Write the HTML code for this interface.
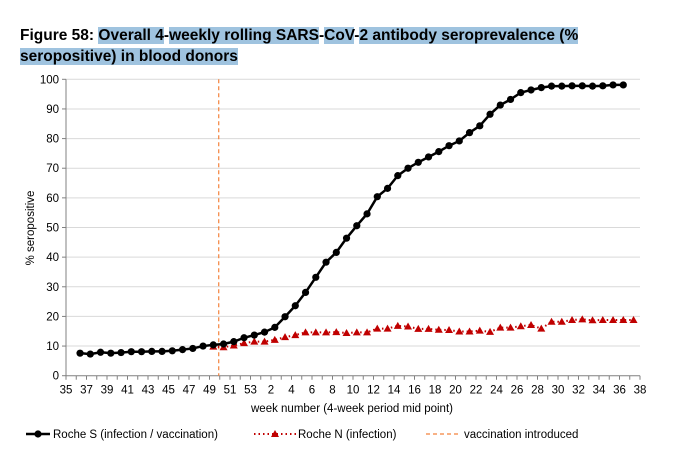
<!DOCTYPE html>
<html><head><meta charset="utf-8"><style>
body{margin:0;background:#fff;width:678px;height:465px;overflow:hidden;font-family:"Liberation Sans",Arial,sans-serif}
.title{position:absolute;left:20px;top:25px;font-weight:bold;font-size:15.5px;line-height:21px;color:#000}
.hl{background:#9fc3df}
</style></head><body>
<div class="title">Figure 58: <span class="hl">Overall 4</span>-<span class="hl">weekly rolling SARS</span>-<span class="hl">CoV</span>-<span class="hl">2 antibody seroprevalence (%</span><br><span class="hl">seropositive) in blood donors</span></div>
<svg id="chart" width="678" height="465" style="position:absolute;left:0;top:0"></svg>
<script>
const xLabels=["35","37","39","41","43","45","47","49","51","53","2","4","6","8","10","12","14","16","18","20","22","24","26","28","30","32","34","36","38"];
const yTicks=[0,10,20,30,40,50,60,70,80,90,100];
const rocheS=[7.6,7.3,7.9,7.6,7.8,8.1,8.1,8.2,8.2,8.4,8.8,9.2,10.0,10.4,10.7,11.5,12.8,13.7,14.7,16.3,19.9,23.6,28.1,33.2,38.3,41.6,46.4,50.6,54.6,60.4,63.2,67.5,70.0,72.0,73.8,75.6,77.6,79.2,82.0,84.3,88.2,91.3,93.2,95.5,96.4,97.2,97.7,97.7,97.8,97.8,97.7,97.8,98.1,98.1];
const rocheN=[9.8,9.6,10.2,11.0,11.5,11.5,12.1,13.0,13.7,14.6,14.6,14.6,14.7,14.4,14.6,14.6,15.9,15.9,16.8,16.6,15.8,15.8,15.5,15.4,14.9,14.9,15.2,14.8,16.2,16.2,16.7,17.1,15.9,18.2,18.2,18.8,19.0,18.7,18.8,18.8,18.8,18.8];
const sStartIdx=1.37, nStartIdx=14.37, vaccIdx=14.9, nWeeks=56;
const svg=document.getElementById('chart');const NS='http://www.w3.org/2000/svg';
function mk(t,a,p){const e=document.createElementNS(NS,t);for(const k in a)e.setAttribute(k,a[k]);(p||svg).appendChild(e);return e;}
const X0=66,X1=640,Y0=375.7,Y1=79.3;
const xs=i=>X0+i*(X1-X0)/nWeeks, ys=v=>Y0+(Y1-Y0)*v/100;
yTicks.forEach(v=>{
 if(v>0){const g=mk('line',{x1:X0,x2:X1,y1:ys(v),y2:ys(v),stroke:'#d9d9d9','stroke-width':1});
 }
 mk('line',{x1:X0-4,x2:X0,y1:ys(v),y2:ys(v),stroke:'#808080'});
 const t=mk('text',{x:X0-7,y:ys(v)+4,'text-anchor':'end','font-size':'11.5',fill:'#000'});t.textContent=v;
 
});
mk('line',{x1:X0,x2:X0,y1:Y1,y2:Y0,stroke:'#808080'});
mk('line',{x1:X0,x2:X1,y1:Y0,y2:Y0,stroke:'#808080'});
for(let i=0;i<=nWeeks;i++)mk('line',{x1:xs(i),x2:xs(i),y1:Y0,y2:Y0+4,stroke:'#808080'});
xLabels.forEach((l,k)=>{const t=mk('text',{x:xs(k*2),y:Y0+18,'text-anchor':'middle','font-size':'11.5',fill:'#000'});t.textContent=l;
 });
let t=mk('text',{x:352,y:412,'text-anchor':'middle','font-size':'11.5'});t.textContent='week number  (4-week period mid point)';

t=mk('text',{x:0,y:0,'text-anchor':'middle','font-size':'11.5',transform:'translate(34,228) rotate(-90)'});t.textContent='% seropositive';

let vl=mk('line',{x1:xs(vaccIdx),x2:xs(vaccIdx),y1:Y1,y2:Y0,stroke:'#f4823c','stroke-dasharray':'4,3','stroke-width':1.2});

// N series
let p=mk('polyline',{points:rocheN.map((v,i)=>xs(nStartIdx+i)+','+ys(v)).join(' '),fill:'none',stroke:'#c00000','stroke-width':2,'stroke-dasharray':'1.5,3'});

rocheN.forEach((v,i)=>{const x=xs(nStartIdx+i),y=ys(v);
 const m=mk('polygon',{points:`${x},${y-4} ${x+4},${y+3} ${x-4},${y+3}`,fill:'#c00000'});
 });
// S series
p=mk('polyline',{points:rocheS.map((v,i)=>xs(sStartIdx+i)+','+ys(v)).join(' '),fill:'none',stroke:'#000','stroke-width':2.5});

rocheS.forEach((v,i)=>{const m=mk('circle',{cx:xs(sStartIdx+i),cy:ys(v),r:3.6,fill:'#000'});
 });
// legend
const LY=434;
let g=mk('g',{});
mk('line',{x1:26,x2:50,y1:LY,y2:LY,stroke:'#000','stroke-width':2.5},g);mk('circle',{cx:38,cy:LY,r:3.6},g);
t=mk('text',{x:53,y:LY+4,'font-size':'11.5'},g);t.textContent='Roche S (infection / vaccination)';
g=mk('g',{});
mk('line',{x1:254,x2:296,y1:LY,y2:LY,stroke:'#c00000','stroke-width':2,'stroke-dasharray':'1.5,3'},g);
mk('polygon',{points:'275,430 279,437 271,437',fill:'#c00000'},g);
t=mk('text',{x:298,y:LY+4,'font-size':'11.5'},g);t.textContent='Roche N (infection)';
g=mk('g',{});
mk('line',{x1:426,x2:460,y1:LY,y2:LY,stroke:'#f4823c','stroke-width':1.2,'stroke-dasharray':'4,3'},g);
t=mk('text',{x:464,y:LY+4,'font-size':'11.5'},g);t.textContent='vaccination introduced';
</script>
</body></html>
